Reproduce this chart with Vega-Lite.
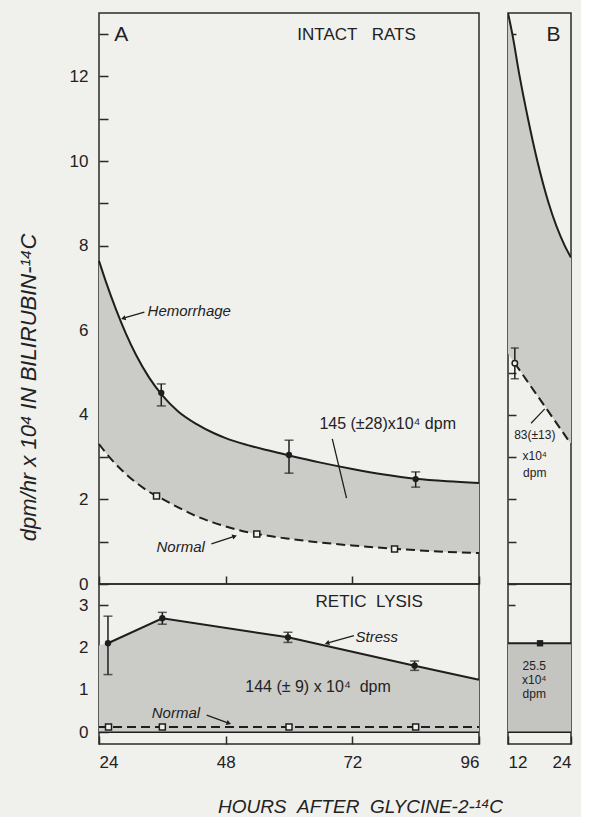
{
  "$schema": "https://vega.github.io/schema/vega-lite/v6.json",
  "background": "#f0f0ed",
  "padding": {"left": 16, "top": 12, "right": 5, "bottom": 5},
  "bounds": "flush",
  "columns": 2,
  "spacing": {"row": 0, "column": 29},
  "config": {
    "view": {"stroke": "#2a2a2a", "strokeWidth": 1.5},
    "axis": {"grid": false, "domain": false, "tickColor": "#2a2a2a", "tickWidth": 1.5, "labelColor": "#222", "labelFont": "Liberation Sans", "labelFontSize": 17, "titleColor": "#222", "titleFont": "Liberation Sans"},
    "text": {"font": "Liberation Sans", "color": "#222"}
  },
  "datasets": {
    "topA": [
      {"h": 24, "hem": 7.64, "norm": 3.31},
      {"h": 25.3, "hem": 7.15, "norm": 3.10},
      {"h": 27.2, "hem": 6.5, "norm": 2.83},
      {"h": 29.1, "hem": 5.92, "norm": 2.60},
      {"h": 31, "hem": 5.42, "norm": 2.40},
      {"h": 33.5, "hem": 4.88, "norm": 2.18},
      {"h": 36, "hem": 4.46, "norm": 2.01},
      {"h": 39, "hem": 4.08, "norm": 1.81},
      {"h": 42.5, "hem": 3.78, "norm": 1.60},
      {"h": 45.7, "hem": 3.57, "norm": 1.45},
      {"h": 48, "hem": 3.45, "norm": 1.36},
      {"h": 52, "hem": 3.29, "norm": 1.23},
      {"h": 56, "hem": 3.16, "norm": 1.14},
      {"h": 60, "hem": 3.04, "norm": 1.07},
      {"h": 66, "hem": 2.87, "norm": 0.98},
      {"h": 72, "hem": 2.72, "norm": 0.91},
      {"h": 78, "hem": 2.59, "norm": 0.85},
      {"h": 84, "hem": 2.49, "norm": 0.80},
      {"h": 90, "hem": 2.43, "norm": 0.76},
      {"h": 96, "hem": 2.39, "norm": 0.73}
    ],
    "topA_hem_pts": [
      {"h": 35.8, "v": 4.52, "lo": 4.21, "hi": 4.73},
      {"h": 60, "v": 3.05, "lo": 2.62, "hi": 3.40},
      {"h": 84, "v": 2.48, "lo": 2.29, "hi": 2.65}
    ],
    "topA_norm_pts": [
      {"h": 34.9, "v": 2.08},
      {"h": 53.9, "v": 1.18},
      {"h": 80, "v": 0.83}
    ],
    "topB": [
      {"h": 12, "hem": 13.5, "norm": 5.45},
      {"h": 12.83, "hem": 13.0, "norm": 5.30},
      {"h": 14.22, "hem": 12.0, "norm": 5.06},
      {"h": 15.81, "hem": 11.0, "norm": 4.77},
      {"h": 17.59, "hem": 10.0, "norm": 4.45},
      {"h": 19.75, "hem": 9.0, "norm": 4.07},
      {"h": 22.8, "hem": 8.0, "norm": 3.52},
      {"h": 24, "hem": 7.72, "norm": 3.31}
    ],
    "topB_norm_line": [
      {"h": 13.3, "v": 5.22},
      {"h": 24, "v": 3.31}
    ],
    "topB_pt": [
      {"h": 13.3, "v": 5.22, "lo": 4.85, "hi": 5.58}
    ],
    "botA_stress": [
      {"h": 24, "v": 2.05},
      {"h": 25.7, "v": 2.10},
      {"h": 36, "v": 2.69},
      {"h": 59.8, "v": 2.24},
      {"h": 83.8, "v": 1.57},
      {"h": 96, "v": 1.24}
    ],
    "botA_stress_pts": [
      {"h": 25.7, "v": 2.10, "lo": 1.36, "hi": 2.74},
      {"h": 36, "v": 2.69, "lo": 2.55, "hi": 2.83},
      {"h": 59.8, "v": 2.24, "lo": 2.12, "hi": 2.36},
      {"h": 83.8, "v": 1.57, "lo": 1.46, "hi": 1.68}
    ],
    "botA_norm": [
      {"h": 24, "v": 0.12},
      {"h": 96, "v": 0.12}
    ],
    "botA_norm_pts": [
      {"h": 25.8, "v": 0.12},
      {"h": 36, "v": 0.12},
      {"h": 60, "v": 0.12},
      {"h": 84, "v": 0.12}
    ],
    "botB": [
      {"h": 12, "v": 2.1},
      {"h": 24, "v": 2.1}
    ],
    "botB_pt": [
      {"h": 18.1, "v": 2.1, "lo": 2.04, "hi": 2.16}
    ]
  },
  "concat": [
    {
      "width": 380,
      "height": 571,
      "encoding": {
        "x": {"type": "quantitative", "scale": {"domain": [24, 96], "nice": false}},
        "y": {"type": "quantitative", "scale": {"domain": [0, 13.5], "nice": false}}
      },
      "layer": [
        {
          "data": {"name": "topA"},
          "mark": {"type": "area", "interpolate": "monotone", "fill": "#cbcbc8"},
          "encoding": {
            "x": {"field": "h", "type": "quantitative",
              "axis": {"values": [24, 48, 72, 96], "labels": false, "tickSize": -8, "title": null}},
            "y": {"field": "norm", "type": "quantitative",
              "axis": {"values": [0,1,2,3,4,5,6,7,8,9,10,11,12,13], "tickSize": -9, "labelPadding": 20,
                "labelExpr": "datum.value % 2 == 0 ? datum.label : ''",
                "title": "dpm/hr x 10⁴ IN BILIRUBIN-¹⁴C", "titleFontSize": 22, "titleFontStyle": "italic", "titleFontWeight": "normal",
                "titleX": -71, "titleY": 374, "titleAngle": -90, "titleAlign": "center", "titleBaseline": "middle"}},
            "y2": {"field": "hem"}
          }
        },
        {
          "data": {"name": "topA"},
          "mark": {"type": "line", "interpolate": "monotone", "color": "#1e1e1e", "strokeWidth": 2},
          "encoding": {"x": {"field": "h", "type": "quantitative"}, "y": {"field": "hem", "type": "quantitative"}}
        },
        {
          "data": {"name": "topA"},
          "mark": {"type": "line", "interpolate": "monotone", "color": "#1e1e1e", "strokeWidth": 2, "strokeDash": [9, 5]},
          "encoding": {"x": {"field": "h", "type": "quantitative"}, "y": {"field": "norm", "type": "quantitative"}}
        },
        {
          "data": {"name": "topA_hem_pts"},
          "mark": {"type": "rule", "color": "#1e1e1e", "strokeWidth": 1.5},
          "encoding": {"x": {"field": "h", "type": "quantitative"}, "y": {"field": "lo", "type": "quantitative"}, "y2": {"field": "hi"}}
        },
        {
          "data": {"name": "topA_hem_pts"},
          "mark": {"type": "tick", "orient": "horizontal", "color": "#1e1e1e", "size": 9, "thickness": 1.5},
          "encoding": {"x": {"field": "h", "type": "quantitative"}, "y": {"field": "lo", "type": "quantitative"}}
        },
        {
          "data": {"name": "topA_hem_pts"},
          "mark": {"type": "tick", "orient": "horizontal", "color": "#1e1e1e", "size": 9, "thickness": 1.5},
          "encoding": {"x": {"field": "h", "type": "quantitative"}, "y": {"field": "hi", "type": "quantitative"}}
        },
        {
          "data": {"name": "topA_hem_pts"},
          "mark": {"type": "point", "shape": "circle", "filled": true, "color": "#1e1e1e", "size": 40, "opacity": 1},
          "encoding": {"x": {"field": "h", "type": "quantitative"}, "y": {"field": "v", "type": "quantitative"}}
        },
        {
          "data": {"name": "topA_norm_pts"},
          "mark": {"type": "point", "shape": "square", "filled": true, "fill": "#f0f0ed", "stroke": "#1e1e1e", "strokeWidth": 1.5, "size": 36, "opacity": 1},
          "encoding": {"x": {"field": "h", "type": "quantitative"}, "y": {"field": "v", "type": "quantitative"}}
        },
        {
          "data": {"values": [{"h": 28.2, "v": 12.98, "label": "A"}]},
          "mark": {"type": "text", "fontSize": 21, "align": "center", "baseline": "middle"},
          "encoding": {"x": {"field": "h", "type": "quantitative"}, "y": {"field": "v", "type": "quantitative"}, "text": {"field": "label"}}
        },
        {
          "data": {"values": [{"h": 72.8, "v": 12.98, "label": "INTACT\u00a0\u00a0\u00a0RATS"}]},
          "mark": {"type": "text", "fontSize": 17, "align": "center", "baseline": "middle"},
          "encoding": {"x": {"field": "h", "type": "quantitative"}, "y": {"field": "v", "type": "quantitative"}, "text": {"field": "label"}}
        },
        {
          "data": {"values": [{"h": 78.7, "v": 3.78, "label": "145 (±28)x10⁴ dpm"}]},
          "mark": {"type": "text", "fontSize": 16, "align": "center", "baseline": "middle"},
          "encoding": {"x": {"field": "h", "type": "quantitative"}, "y": {"field": "v", "type": "quantitative"}, "text": {"field": "label"}}
        },
        {
          "data": {"values": [{"h": 33.2, "v": 6.45, "label": "Hemorrhage"}, {"h": 34.9, "v": 0.87, "label": "Normal"}]},
          "mark": {"type": "text", "fontSize": 15, "fontStyle": "italic", "align": "left", "baseline": "middle"},
          "encoding": {"x": {"field": "h", "type": "quantitative"}, "y": {"field": "v", "type": "quantitative"}, "text": {"field": "label"}}
        },
        {
          "data": {"values": [
            {"h": 32.6, "v": 6.43, "h2": 28.8, "v2": 6.29},
            {"h": 45.3, "v": 0.95, "h2": 49.5, "v2": 1.12},
            {"h": 68.2, "v": 3.43, "h2": 70.9, "v2": 2.03}
          ]},
          "mark": {"type": "rule", "color": "#1e1e1e", "strokeWidth": 1.3},
          "encoding": {"x": {"field": "h", "type": "quantitative"}, "y": {"field": "v", "type": "quantitative"}, "x2": {"field": "h2"}, "y2": {"field": "v2"}}
        },
        {
          "data": {"values": [{"h": 28.6, "v": 6.28, "dir": 252}, {"h": 49.7, "v": 1.13, "dir": 71}]},
          "mark": {"type": "point", "shape": "triangle-up", "filled": true, "color": "#1e1e1e", "size": 28, "opacity": 1},
          "encoding": {"x": {"field": "h", "type": "quantitative"}, "y": {"field": "v", "type": "quantitative"}, "angle": {"field": "dir", "type": "quantitative", "scale": null}}
        }
      ]
    },
    {
      "width": 63,
      "height": 571,
      "encoding": {
        "x": {"type": "quantitative", "scale": {"domain": [12, 24], "nice": false}},
        "y": {"type": "quantitative", "scale": {"domain": [0, 13.5], "nice": false}}
      },
      "layer": [
        {
          "data": {"name": "topB"},
          "mark": {"type": "area", "interpolate": "monotone", "fill": "#cbcbc8", "clip": true},
          "encoding": {
            "x": {"field": "h", "type": "quantitative", "axis": null},
            "y": {"field": "norm", "type": "quantitative",
              "axis": {"values": [0,1,2,3,4,5,6,7,8,9,10,11,12,13], "tickSize": -8, "labels": false, "title": null}},
            "y2": {"field": "hem"}
          }
        },
        {
          "data": {"name": "topB"},
          "mark": {"type": "line", "interpolate": "monotone", "color": "#1e1e1e", "strokeWidth": 2, "clip": true},
          "encoding": {"x": {"field": "h", "type": "quantitative"}, "y": {"field": "hem", "type": "quantitative"}}
        },
        {
          "data": {"name": "topB_norm_line"},
          "mark": {"type": "line", "color": "#1e1e1e", "strokeWidth": 2, "strokeDash": [9, 5]},
          "encoding": {"x": {"field": "h", "type": "quantitative"}, "y": {"field": "v", "type": "quantitative"}}
        },
        {
          "data": {"name": "topB_pt"},
          "mark": {"type": "rule", "color": "#1e1e1e", "strokeWidth": 1.5},
          "encoding": {"x": {"field": "h", "type": "quantitative"}, "y": {"field": "lo", "type": "quantitative"}, "y2": {"field": "hi"}}
        },
        {
          "data": {"name": "topB_pt"},
          "mark": {"type": "tick", "orient": "horizontal", "color": "#1e1e1e", "size": 8, "thickness": 1.5},
          "encoding": {"x": {"field": "h", "type": "quantitative"}, "y": {"field": "lo", "type": "quantitative"}}
        },
        {
          "data": {"name": "topB_pt"},
          "mark": {"type": "tick", "orient": "horizontal", "color": "#1e1e1e", "size": 8, "thickness": 1.5},
          "encoding": {"x": {"field": "h", "type": "quantitative"}, "y": {"field": "hi", "type": "quantitative"}}
        },
        {
          "data": {"name": "topB_pt"},
          "mark": {"type": "point", "shape": "circle", "filled": true, "fill": "#f0f0ed", "stroke": "#1e1e1e", "strokeWidth": 1.5, "size": 30, "opacity": 1},
          "encoding": {"x": {"field": "h", "type": "quantitative"}, "y": {"field": "v", "type": "quantitative"}}
        },
        {
          "data": {"values": [{"h": 20.65, "v": 12.98, "label": "B"}]},
          "mark": {"type": "text", "fontSize": 21, "align": "center", "baseline": "middle"},
          "encoding": {"x": {"field": "h", "type": "quantitative"}, "y": {"field": "v", "type": "quantitative"}, "text": {"field": "label"}}
        },
        {
          "data": {"values": [
            {"h": 17.1, "v": 3.52, "label": "83(±13)"},
            {"h": 17.1, "v": 3.03, "label": "x10⁴"},
            {"h": 17.1, "v": 2.62, "label": "dpm"}
          ]},
          "mark": {"type": "text", "fontSize": 12, "align": "center", "baseline": "middle"},
          "encoding": {"x": {"field": "h", "type": "quantitative"}, "y": {"field": "v", "type": "quantitative"}, "text": {"field": "label"}}
        },
        {
          "data": {"values": [{"h": 16.4, "v": 3.8, "h2": 19.0, "v2": 4.14}]},
          "mark": {"type": "rule", "color": "#1e1e1e", "strokeWidth": 1.2},
          "encoding": {"x": {"field": "h", "type": "quantitative"}, "y": {"field": "v", "type": "quantitative"}, "x2": {"field": "h2"}, "y2": {"field": "v2"}}
        }
      ]
    },
    {
      "width": 380,
      "height": 160,
      "encoding": {
        "x": {"type": "quantitative", "scale": {"domain": [24, 96], "nice": false}},
        "y": {"type": "quantitative", "scale": {"domain": [-0.28, 3.5], "nice": false, "zero": false}}
      },
      "layer": [
        {
          "data": {"name": "botA_stress"},
          "mark": {"type": "area", "fill": "#cbcbc8"},
          "encoding": {
            "x": {"field": "h", "type": "quantitative",
              "axis": {"values": [24, 48, 72, 96], "tickSize": -8, "labelPadding": 18,
                "title": "HOURS\u00a0\u00a0AFTER\u00a0\u00a0GLYCINE-2-¹⁴C", "titleFontSize": 19, "titleFontStyle": "italic", "titleFontWeight": "normal",
                "titleX": 261, "titleY": 68, "titleAlign": "center", "titleBaseline": "alphabetic"}},
            "y": {"field": "v", "type": "quantitative",
              "axis": {"values": [0, 1, 2, 3], "tickSize": -9, "labelPadding": 20, "title": null}},
            "y2": {"datum": 0}
          }
        },
        {
          "data": {"values": [{"v": 0}]},
          "mark": {"type": "rule", "color": "#1e1e1e", "strokeWidth": 1.5},
          "encoding": {"y": {"field": "v", "type": "quantitative"}}
        },
        {
          "data": {"name": "botA_stress"},
          "transform": [{"filter": "datum.h >= 25"}],
          "mark": {"type": "line", "color": "#1e1e1e", "strokeWidth": 2},
          "encoding": {"x": {"field": "h", "type": "quantitative"}, "y": {"field": "v", "type": "quantitative"}}
        },
        {
          "data": {"name": "botA_norm"},
          "mark": {"type": "line", "color": "#1e1e1e", "strokeWidth": 2, "strokeDash": [9, 5]},
          "encoding": {"x": {"field": "h", "type": "quantitative"}, "y": {"field": "v", "type": "quantitative"}}
        },
        {
          "data": {"name": "botA_stress_pts"},
          "mark": {"type": "rule", "color": "#1e1e1e", "strokeWidth": 1.5},
          "encoding": {"x": {"field": "h", "type": "quantitative"}, "y": {"field": "lo", "type": "quantitative"}, "y2": {"field": "hi"}}
        },
        {
          "data": {"name": "botA_stress_pts"},
          "mark": {"type": "tick", "orient": "horizontal", "color": "#1e1e1e", "size": 9, "thickness": 1.5},
          "encoding": {"x": {"field": "h", "type": "quantitative"}, "y": {"field": "lo", "type": "quantitative"}}
        },
        {
          "data": {"name": "botA_stress_pts"},
          "mark": {"type": "tick", "orient": "horizontal", "color": "#1e1e1e", "size": 9, "thickness": 1.5},
          "encoding": {"x": {"field": "h", "type": "quantitative"}, "y": {"field": "hi", "type": "quantitative"}}
        },
        {
          "data": {"name": "botA_stress_pts"},
          "mark": {"type": "point", "shape": "circle", "filled": true, "color": "#1e1e1e", "size": 40, "opacity": 1},
          "encoding": {"x": {"field": "h", "type": "quantitative"}, "y": {"field": "v", "type": "quantitative"}}
        },
        {
          "data": {"name": "botA_norm_pts"},
          "mark": {"type": "point", "shape": "square", "filled": true, "fill": "#f0f0ed", "stroke": "#1e1e1e", "strokeWidth": 1.5, "size": 36, "opacity": 1},
          "encoding": {"x": {"field": "h", "type": "quantitative"}, "y": {"field": "v", "type": "quantitative"}}
        },
        {
          "data": {"values": [{"h": 75.2, "v": 3.07, "label": "RETIC\u00a0\u00a0LYSIS"}]},
          "mark": {"type": "text", "fontSize": 17, "align": "center", "baseline": "middle"},
          "encoding": {"x": {"field": "h", "type": "quantitative"}, "y": {"field": "v", "type": "quantitative"}, "text": {"field": "label"}}
        },
        {
          "data": {"values": [{"h": 65.5, "v": 1.06, "label": "144 (± 9) x 10⁴\u00a0\u00a0dpm"}]},
          "mark": {"type": "text", "fontSize": 16, "align": "center", "baseline": "middle"},
          "encoding": {"x": {"field": "h", "type": "quantitative"}, "y": {"field": "v", "type": "quantitative"}, "text": {"field": "label"}}
        },
        {
          "data": {"values": [{"h": 72.6, "v": 2.24, "label": "Stress"}, {"h": 34.0, "v": 0.45, "label": "Normal"}]},
          "mark": {"type": "text", "fontSize": 15, "fontStyle": "italic", "align": "left", "baseline": "middle"},
          "encoding": {"x": {"field": "h", "type": "quantitative"}, "y": {"field": "v", "type": "quantitative"}, "text": {"field": "label"}}
        },
        {
          "data": {"values": [
            {"h": 72.3, "v": 2.28, "h2": 67.4, "v2": 2.11},
            {"h": 44.4, "v": 0.40, "h2": 48.4, "v2": 0.22}
          ]},
          "mark": {"type": "rule", "color": "#1e1e1e", "strokeWidth": 1.3},
          "encoding": {"x": {"field": "h", "type": "quantitative"}, "y": {"field": "v", "type": "quantitative"}, "x2": {"field": "h2"}, "y2": {"field": "v2"}}
        },
        {
          "data": {"values": [{"h": 67.2, "v": 2.1, "dir": 253}, {"h": 48.6, "v": 0.21, "dir": 110}]},
          "mark": {"type": "point", "shape": "triangle-up", "filled": true, "color": "#1e1e1e", "size": 28, "opacity": 1},
          "encoding": {"x": {"field": "h", "type": "quantitative"}, "y": {"field": "v", "type": "quantitative"}, "angle": {"field": "dir", "type": "quantitative", "scale": null}}
        }
      ]
    },
    {
      "width": 63,
      "height": 160,
      "encoding": {
        "x": {"type": "quantitative", "scale": {"domain": [12, 24], "nice": false}},
        "y": {"type": "quantitative", "scale": {"domain": [-0.28, 3.5], "nice": false, "zero": false}}
      },
      "layer": [
        {
          "data": {"name": "botB"},
          "mark": {"type": "area", "fill": "#c4c4c1"},
          "encoding": {
            "x": {"field": "h", "type": "quantitative",
              "axis": {"values": [12, 24], "tickSize": -8, "labelPadding": 18, "title": null}},
            "y": {"field": "v", "type": "quantitative",
              "axis": {"values": [1, 2, 3], "tickSize": -7, "labels": false, "title": null}},
            "y2": {"datum": 0}
          }
        },
        {
          "data": {"values": [{"v": 0}]},
          "mark": {"type": "rule", "color": "#1e1e1e", "strokeWidth": 1.5},
          "encoding": {"y": {"field": "v", "type": "quantitative"}}
        },
        {
          "data": {"name": "botB"},
          "mark": {"type": "line", "color": "#1e1e1e", "strokeWidth": 2},
          "encoding": {"x": {"field": "h", "type": "quantitative"}, "y": {"field": "v", "type": "quantitative"}}
        },
        {
          "data": {"name": "botB_pt"},
          "mark": {"type": "point", "shape": "square", "filled": true, "color": "#1e1e1e", "size": 40, "opacity": 1},
          "encoding": {"x": {"field": "h", "type": "quantitative"}, "y": {"field": "v", "type": "quantitative"}}
        },
        {
          "data": {"values": [
            {"h": 17.0, "v": 1.57, "label": "25.5"},
            {"h": 17.0, "v": 1.24, "label": "x10⁴"},
            {"h": 17.0, "v": 0.90, "label": "dpm"}
          ]},
          "mark": {"type": "text", "fontSize": 12, "align": "center", "baseline": "middle"},
          "encoding": {"x": {"field": "h", "type": "quantitative"}, "y": {"field": "v", "type": "quantitative"}, "text": {"field": "label"}}
        }
      ]
    }
  ]
}
